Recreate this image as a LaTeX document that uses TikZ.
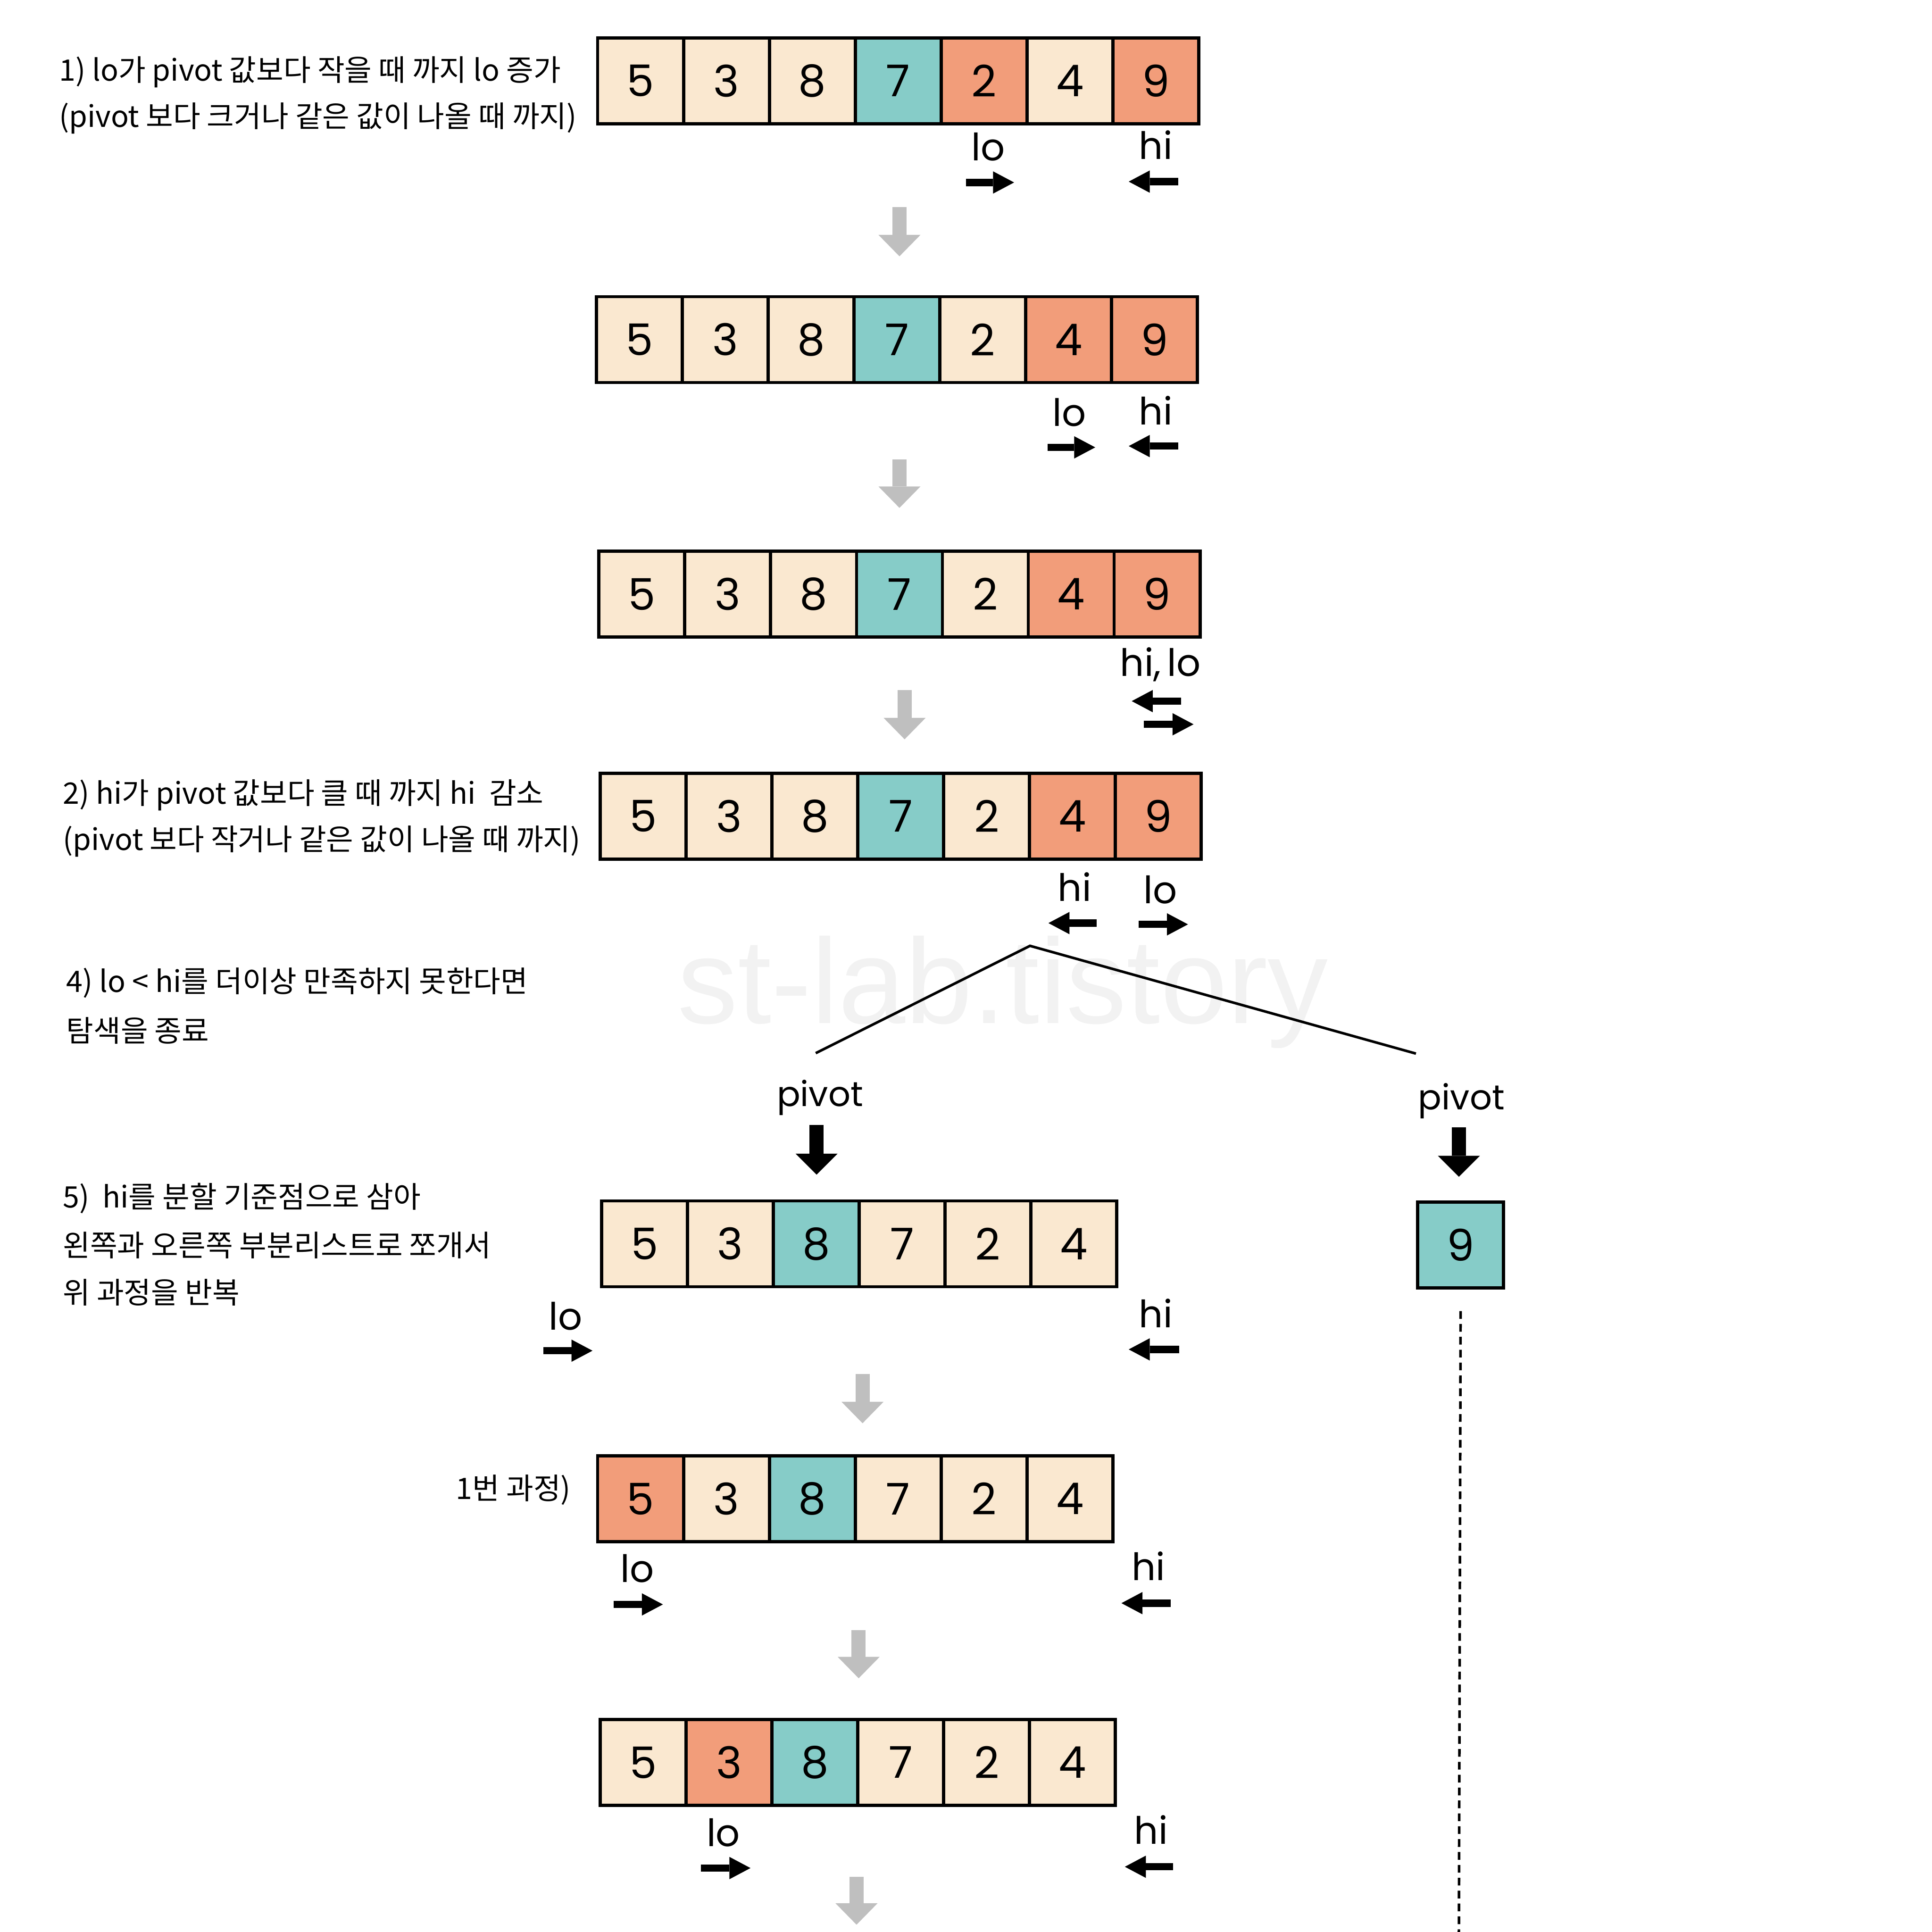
\documentclass[tikz,border=0pt]{standalone}
\usepackage{fontspec}
\setmainfont{Poppins}
\newfontfamily\krfont{Noto Sans CJK KR}
\newfontfamily\wmfont{Liberation Sans}
\usetikzlibrary{arrows.meta,calc}
\definecolor{qcream}{RGB}{250,232,208}
\definecolor{qteal}{RGB}{134,204,200}
\definecolor{qsalmon}{RGB}{242,157,122}
\definecolor{qgray}{RGB}{191,191,191}
\definecolor{qmark}{RGB}{242,242,242}

\tikzset{
  cell/.style={draw, line width=0.075cm, minimum size=2cm, inner sep=0pt, font=\fontsize{29}{29}\selectfont},
  ptr/.style={line width=0.17cm, -{Triangle[length=0.49cm,width=0.52cm,line width=0pt]}},
  ptrlabel/.style={inner sep=0pt, font=\fontsize{25}{25}\selectfont},
  pivotlabel/.style={inner sep=0pt, anchor=base, font=\fontsize{23}{23}\selectfont},
  stepdown/.style={qgray, line width=0.33cm, -{Triangle[length=0.5cm,width=0.98cm,line width=0pt]}},
  pivotdown/.style={black, line width=0.33cm, -{Triangle[length=0.49cm,width=0.98cm,line width=0pt]}},
  note/.style={inner sep=0pt, anchor=west, font=\krfont\fontsize{19.6}{22}\selectfont},
  wmark/.style={inner sep=0pt, anchor=base west, text=qmark, font=\wmfont\fontsize{80}{80}\selectfont},
}

\newcommand{\cellrow}[3]{%
  \foreach \val/\col [count=\i] in {#3}
    \node[cell, fill=\col] (#1\i) at ($(#2)+(2*\i-1,0)$) {\val};}

\begin{document}
\begin{tikzpicture}
\useasboundingbox (0,0) rectangle (45,-45);

%Watermark:
\node[wmark] (wm) at (15.77,-23.83) {st-lab.tistory};

%Rows:
\coordinate (r1) at (13.92,-1.88);
\coordinate (r2) at (13.89,-7.91);
\coordinate (r3) at (13.95,-13.84);
\coordinate (r4) at (13.98,-19.01);
\coordinate (r5) at (14.01,-28.97);
\coordinate (r6) at (13.92,-34.91);
\coordinate (r7) at (13.98,-41.05);

\cellrow{a}{r1}{5/qcream,3/qcream,8/qcream,7/qteal,2/qsalmon,4/qcream,9/qsalmon}
\cellrow{b}{r2}{5/qcream,3/qcream,8/qcream,7/qteal,2/qcream,4/qsalmon,9/qsalmon}
\cellrow{c}{r3}{5/qcream,3/qcream,8/qcream,7/qteal,2/qcream,4/qsalmon,9/qsalmon}
\cellrow{d}{r4}{5/qcream,3/qcream,8/qcream,7/qteal,2/qcream,4/qsalmon,9/qsalmon}
\cellrow{e}{r5}{5/qcream,3/qcream,8/qteal,7/qcream,2/qcream,4/qcream}
\cellrow{f}{r6}{5/qsalmon,3/qcream,8/qteal,7/qcream,2/qcream,4/qcream}
\cellrow{g}{r7}{5/qcream,3/qsalmon,8/qteal,7/qcream,2/qcream,4/qcream}
\node[cell, fill=qteal] (nine) at (34.02,-29.0) {9};

%Notes:
\node[note] (t1a) at (1.37,-1.68) {1) lo가 pivot 값보다 작을 때 까지 lo 증가};
\node[note] (t1b) at (1.37,-2.75) {(pivot 보다 크거나 같은 값이 나올 때 까지)};
\node[note] (t2a) at (1.46,-18.52) {2) hi가 pivot 값보다 클 때 까지 hi\ \ 감소};
\node[note] (t2b) at (1.46,-19.60) {(pivot 보다 작거나 같은 값이 나올 때 까지)};
\node[note] (t4a) at (1.54,-22.89) {4) lo < hi를 더이상 만족하지 못한다면};
\node[note] (t4b) at (1.54,-24.00) {탐색을 종료};
\node[note] (t5a) at (1.46,-27.91) {5)\ \ hi를 분할 기준점으로 삼아};
\node[note] (t5b) at (1.46,-29.00) {왼쪽과 오른쪽 부분리스트로 쪼개서};
\node[note] (t5c) at (1.46,-30.10) {위 과정을 반복};
\node[note, anchor=east] (t6) at (13.30,-34.70) {1번 과정)};

%Pointers:
\node[ptrlabel] (lo1) at (23.02,-3.42) {lo};
\node[ptrlabel] (hi1) at (26.92,-3.37) {hi};
\draw[ptr] (22.50,-4.25) -- (23.62,-4.25);
\draw[ptr] (27.44,-4.23) -- (26.29,-4.23);

\node[ptrlabel] (lo2) at (24.91,-9.61) {lo};
\node[ptrlabel] (hi2) at (26.92,-9.56) {hi};
\draw[ptr] (24.40,-10.42) -- (25.51,-10.42);
\draw[ptr] (27.44,-10.39) -- (26.29,-10.39);

\node[ptrlabel, anchor=base] (hilo3) at (27.03,-15.75) {hi,\,lo};
\draw[ptr] (27.51,-16.33) -- (26.36,-16.33);
\draw[ptr] (26.64,-16.87) -- (27.80,-16.87);

\node[ptrlabel] (hi4) at (25.03,-20.66) {hi};
\node[ptrlabel] (lo4) at (27.03,-20.72) {lo};
\draw[ptr] (25.54,-21.50) -- (24.42,-21.50);
\draw[ptr] (26.52,-21.53) -- (27.67,-21.53);

\node[ptrlabel] (lo5) at (13.17,-30.65) {lo};
\node[ptrlabel] (hi5) at (26.92,-30.59) {hi};
\draw[ptr] (12.66,-31.46) -- (13.80,-31.46);
\draw[ptr] (27.47,-31.43) -- (26.29,-31.43);

\node[ptrlabel] (lo6) at (14.84,-36.53) {lo};
\node[ptrlabel] (hi6) at (26.75,-36.48) {hi};
\draw[ptr] (14.29,-37.37) -- (15.44,-37.37);
\draw[ptr] (27.27,-37.34) -- (26.12,-37.34);

\node[ptrlabel] (lo7) at (16.85,-42.68) {lo};
\node[ptrlabel] (hi7) at (26.81,-42.62) {hi};
\draw[ptr] (16.33,-43.51) -- (17.48,-43.51);
\draw[ptr] (27.32,-43.48) -- (26.20,-43.48);

%Steps:
\draw[stepdown] (20.95,-4.82) -- (20.95,-5.97);
\draw[stepdown] (20.95,-10.70) -- (20.95,-11.83);
\draw[stepdown] (21.07,-16.07) -- (21.07,-17.22);
\draw[stepdown] (20.09,-32.00) -- (20.09,-33.15);
\draw[stepdown] (20.00,-37.97) -- (20.00,-39.09);
\draw[stepdown] (19.95,-43.71) -- (19.95,-44.83);

%Split:
\coordinate (split) at (23.99,-22.03);
\coordinate (splitL) at (19.00,-24.53);
\coordinate (splitR) at (32.98,-24.54);
\draw[line width=0.06cm] (splitL) -- (split) -- (splitR);

\node[pivotlabel] (pv1) at (19.10,-25.77) {pivot};
\node[pivotlabel] (pv2) at (34.04,-25.85) {pivot};
\draw[pivotdown] (19.02,-26.20) -- (19.02,-27.36);
\draw[pivotdown] (33.98,-26.26) -- (33.98,-27.41);

\coordinate (dashend) at (33.98,-45);
\draw[line width=0.06cm, dash pattern=on 0.18cm off 0.12cm] ($(nine.south)+(0,-0.5)$) -- (dashend);
\end{tikzpicture}
\end{document}
